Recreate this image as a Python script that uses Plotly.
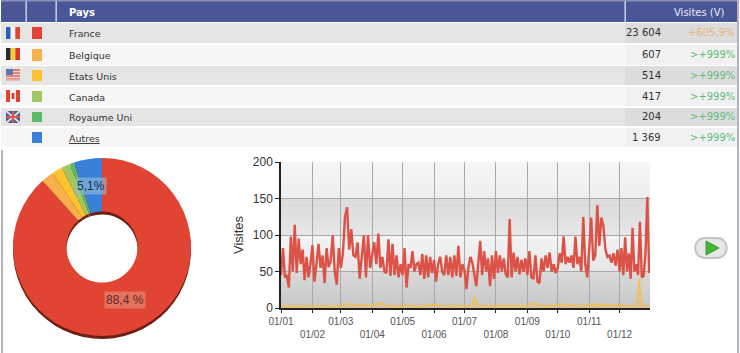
import calendar
from datetime import datetime, timedelta
import plotly.graph_objects as go

W, H = 740, 353

# ---------- data ----------
countries = ["France", "Belgique", "Etats Unis", "Canada", "Royaume Uni", "Autres"]
visits = [23604, 607, 514, 417, 204, 1369]
visit_labels = ["23 604", "607", "514", "417", "204", "1 369"]
changes = ["+605,9%", ">+999%", ">+999%", ">+999%", ">+999%", ">+999%"]
colors = ["#e14433", "#f7b04a", "#fdc22f", "#a0c860", "#5cba64", "#3a7fd8"]
y_ticks = [0, 50, 100, 150, 200]
month_labels = ["01/%02d" % m for m in range(1, 13)]

france_by_month = [
    [45, 82, 42, 45, 28, 98, 50, 114, 48, 95, 60, 80, 38, 70, 42, 60],
    [86, 36, 60, 88, 55, 72, 34, 82, 56, 65, 100, 50, 32, 82],
    [55, 75, 125, 138, 80, 108, 72, 70, 90, 40, 70, 100, 42, 100, 55],
    [75, 90, 60, 102, 55, 70, 50, 48, 94, 44, 88, 45, 72, 42, 60],
    [45, 82, 28, 60, 55, 78, 50, 60, 62, 45, 74, 40, 72, 42, 70, 48],
    [66, 36, 60, 70, 50, 45, 72, 45, 70, 42, 72, 44, 85, 42, 60],
    [52, 26, 55, 70, 62, 45, 30, 60, 92, 45, 78, 50, 68, 30, 72, 40],
    [78, 48, 72, 50, 68, 46, 42, 122, 42, 76, 50, 70, 46, 66, 50, 68],
    [45, 78, 42, 40, 72, 36, 34, 68, 50, 72, 55, 76, 50, 60, 48],
    [55, 75, 62, 98, 60, 70, 62, 72, 55, 98, 60, 70, 50, 125, 60, 42],
    [80, 124, 65, 72, 141, 85, 124, 113, 80, 70, 72, 62, 75, 58, 80],
    [50, 82, 45, 97, 50, 75, 40, 110, 50, 60, 45, 118, 42, 44, 75, 152, 48],
]
belgium_by_month = [
    [2, 3, 2, 3, 2, 3], [3, 2, 3, 2, 3], [3, 6, 5, 3, 5, 3],
    [3, 6, 6, 3, 2, 3], [2, 4, 3, 3, 2, 5], [4, 3, 3, 2, 3, 3],
    [2, 3, 3, 5, 15, 5, 3, 3, 2, 3, 3, 3], [3, 4, 3, 4, 3, 3], [3, 7, 5, 3, 3, 3],
    [4, 5, 4, 4, 3, 2], [5, 5, 4, 5, 4, 4],
    [3, 4, 3, 3, 3, 3, 4, 3, 3, 6, 40, 7, 4, 3, 4, 4],
]


def month_dates(values_by_month):
    xs, ys = [], []
    for m, vals in enumerate(values_by_month, start=1):
        days = calendar.monthrange(2007, m)[1]
        for i, v in enumerate(vals):
            xs.append(datetime(2007, m, 1) + timedelta(days=i * days / len(vals)))
            ys.append(v)
    return xs, ys


fx, fy = month_dates(france_by_month)
bx, by = month_dates(belgium_by_month)
ticks = [datetime(2007, m, 1) for m in range(1, 13)]
tick_text = [lab if i % 2 == 0 else "<br>" + lab for i, lab in enumerate(month_labels)]

# ---------- helpers (pixel -> paper) ----------
px = lambda x: x / W
py = lambda y: 1 - y / H
shapes, notes = [], []


def rect(x0, y0, x1, y1, color, layer="below"):
    shapes.append(dict(type="rect", xref="paper", yref="paper", x0=px(x0), x1=px(x1),
                       y0=py(y1), y1=py(y0), fillcolor=color, line_width=0, layer=layer))


def text(x, y, s, color="#333333", size=10, anchor="left", family="DejaVu Sans", bg=None):
    notes.append(dict(xref="paper", yref="paper", x=px(x), y=py(y), text=s, showarrow=False,
                      xanchor=anchor, yanchor="middle", align=anchor, borderpad=1,
                      bgcolor=bg, font=dict(family=family, size=size, color=color)))


# ---------- table ----------
rect(1, 150, 3, 353, "#b4b4b4")
rect(737, 0, 739, 353, "#b0b4c4")
rect(1, 1, 737, 22, "#4a5698")
rect(1, 0, 737, 1.5, "#8a90b8")
for sx in (25.5, 55.5, 624.5):
    rect(sx, 1, sx + 1.3, 22, "#dfe2f0")
text(67, 12, "<b>Pays</b>", "white", 10)
text(727, 12, "Visites (V)", "#e8ebf6", 10, "right")

rows_y = [(23, 43), (45, 65), (66, 85), (87, 106), (108, 126), (128, 147)]
for i, (y0, y1) in enumerate(rows_y):
    grey = i % 2 == 0
    rect(1, y0, 737, y1, "#e5e5e5" if grey else "#f6f6f6")
    rect(625, y0, 737, y1, "#dcdcdc" if grey else "#f1f1f1")
    rect(32, y0 + 4, 42, y1 - 4, colors[i])
    ym = (y0 + y1) / 2
    text(67, ym + 0.5, "<u>Autres</u>" if i == 5 else countries[i], "#333333", 9.5)
    text(663, ym, visit_labels[i], "#333333", 10, "right")
    text(737, ym, changes[i], "#e9b57c" if i == 0 else "#62bb7c", 10, "right")

# flags
for (c, (y0, y1)) in zip(
    [["#2a5fc0", "#f4f4f4", "#e0452f"], ["#2a2a2a", "#f2cd3c", "#d9372b"]],
    [(27, 39), (48, 60)],
):
    for k in range(3):
        rect(6 + k * 14 / 3, y0, 6 + (k + 1) * 14 / 3, y1, c[k])
rect(6, 69, 20, 81, "#e07a70")
for yy in (71, 74, 77, 79.5):
    rect(6, yy, 20, yy + 1.2, "#f1d8d4")
rect(6, 69, 13, 75, "#5a78b8")
rect(6, 90, 20, 102, "#f4f4f4")
rect(6, 90, 10, 102, "#e0452f")
rect(16, 90, 20, 102, "#e0452f")
rect(11.5, 93, 14.5, 99, "#e0452f")
rect(6, 111, 20, 123, "#44609c")
for d in ((6, 111, 20, 123), (6, 123, 20, 111)):
    shapes.append(dict(type="line", xref="paper", yref="paper", x0=px(d[0]), y0=py(d[1]),
                       x1=px(d[2]), y1=py(d[3]), line=dict(color="#e8d8d8", width=2), layer="below"))
rect(6, 116, 20, 118, "#d8564a")
rect(12, 111, 14, 123, "#d8564a")

# ---------- chart bands (soft vertical gradients) ----------
X0, X1, Y0, Y1 = 281, 650, 162, 308
band_h = (Y1 - Y0) / 4
band_grey = [(0xf6, 0xee), (0xdb, 0xe6), (0xf4, 0xe6), (0xd8, 0xc8)]
STEPS = 9
for k, (g0, g1) in enumerate(band_grey):
    for s in range(STEPS):
        g = round(g0 + (g1 - g0) * s / (STEPS - 1))
        top = Y0 + k * band_h + s * band_h / STEPS
        rect(X0, top, X1, top + band_h / STEPS + 0.3, "#%02x%02x%02x" % (g, g, g))

# ---------- play button ----------
x_a, x_b, y_a, y_b = px(705), px(717), py(238), py(258)
shapes.append(dict(type="path", xref="paper", yref="paper", layer="above", fillcolor="#e6e8e6",
                   line=dict(color="#c2c6c2", width=2),
                   path=(f"M {x_a} {y_a} L {x_b} {y_a} C {px(730)} {y_a} {px(730)} {y_b} {x_b} {y_b} "
                         f"L {x_a} {y_b} C {px(692)} {y_b} {px(692)} {y_a} {x_a} {y_a} Z")))
shapes.append(dict(type="path", xref="paper", yref="paper", layer="above", fillcolor="#45b53a",
                   line=dict(color="#3a9a32", width=1),
                   path=f"M {px(706)} {py(241)} L {px(719)} {py(248)} L {px(706)} {py(255)} Z"))

# ---------- pie labels ----------
text(125, 300, "88,4 %", "#5a2a22", 12, "center", "Liberation Sans", "rgba(235,150,130,0.55)")
text(91, 186, "5,1%", "#12304f", 12, "center", "Liberation Sans", "rgba(150,190,220,0.6)")

fig = go.Figure()
# pie depth, then pie
fig.add_trace(go.Pie(values=visits, labels=countries, sort=False, direction="clockwise", rotation=0,
                     hole=0.4, textinfo="none", hoverinfo="skip", showlegend=False, automargin=False,
                     marker=dict(colors=["#6e1f14"] * 6, line=dict(width=0)),
                     domain=dict(x=[px(10), px(194)], y=[py(339), py(161)])))
fig.add_trace(go.Pie(values=visits, labels=countries, sort=False, direction="clockwise", rotation=0,
                     hole=0.4, textinfo="none", showlegend=False, automargin=False,
                     marker=dict(colors=colors, line=dict(width=0)),
                     domain=dict(x=[px(10), px(194)], y=[py(336), py(158)])))

fig.add_trace(go.Scatter(x=bx, y=by, mode="lines", name="Belgique", showlegend=False, fill="tozeroy",
                         fillcolor="rgba(247,190,90,0.35)", line=dict(color="#f5c04e", width=1.5)))
fig.add_trace(go.Scatter(x=fx, y=fy, mode="lines", name="France", showlegend=False,
                         line=dict(color="#dc5246", width=2.4)))

fig.update_layout(
    width=W, height=H, margin=dict(l=0, r=0, t=0, b=0, pad=0, autoexpand=False),
    paper_bgcolor="white", plot_bgcolor="rgba(0,0,0,0)",
    shapes=shapes, annotations=notes, showlegend=False,
    xaxis=dict(domain=[px(X0), px(X1)], type="date", range=[datetime(2007, 1, 1), datetime(2007, 12, 31)],
               tickmode="array", tickvals=ticks, ticktext=tick_text, ticks="outside", ticklen=3,
               tickcolor="#222", showgrid=True, gridcolor="#a8a8a8", gridwidth=1, showline=True,
               linecolor="#222", linewidth=1.5, tickangle=0,
               tickfont=dict(family="Liberation Sans", size=10, color="#555555")),
    yaxis=dict(domain=[py(Y1), py(Y0)], range=[0, 200], tickmode="array", tickvals=y_ticks, ticks="outside",
               ticklen=4, tickcolor="#222", showgrid=True, gridcolor="#a8a8a8", gridwidth=1, showline=True,
               linecolor="#222", linewidth=1.5, zeroline=False,
               tickfont=dict(family="Liberation Sans", size=12, color="#333333"),
               title=dict(text="Visites", standoff=6, font=dict(family="Liberation Sans", size=13, color="#333333"))),
)
fig.write_html("out.html", config=dict(displayModeBar=False),
               post_script="document.body.style.margin='0';document.body.style.overflow='hidden';")
